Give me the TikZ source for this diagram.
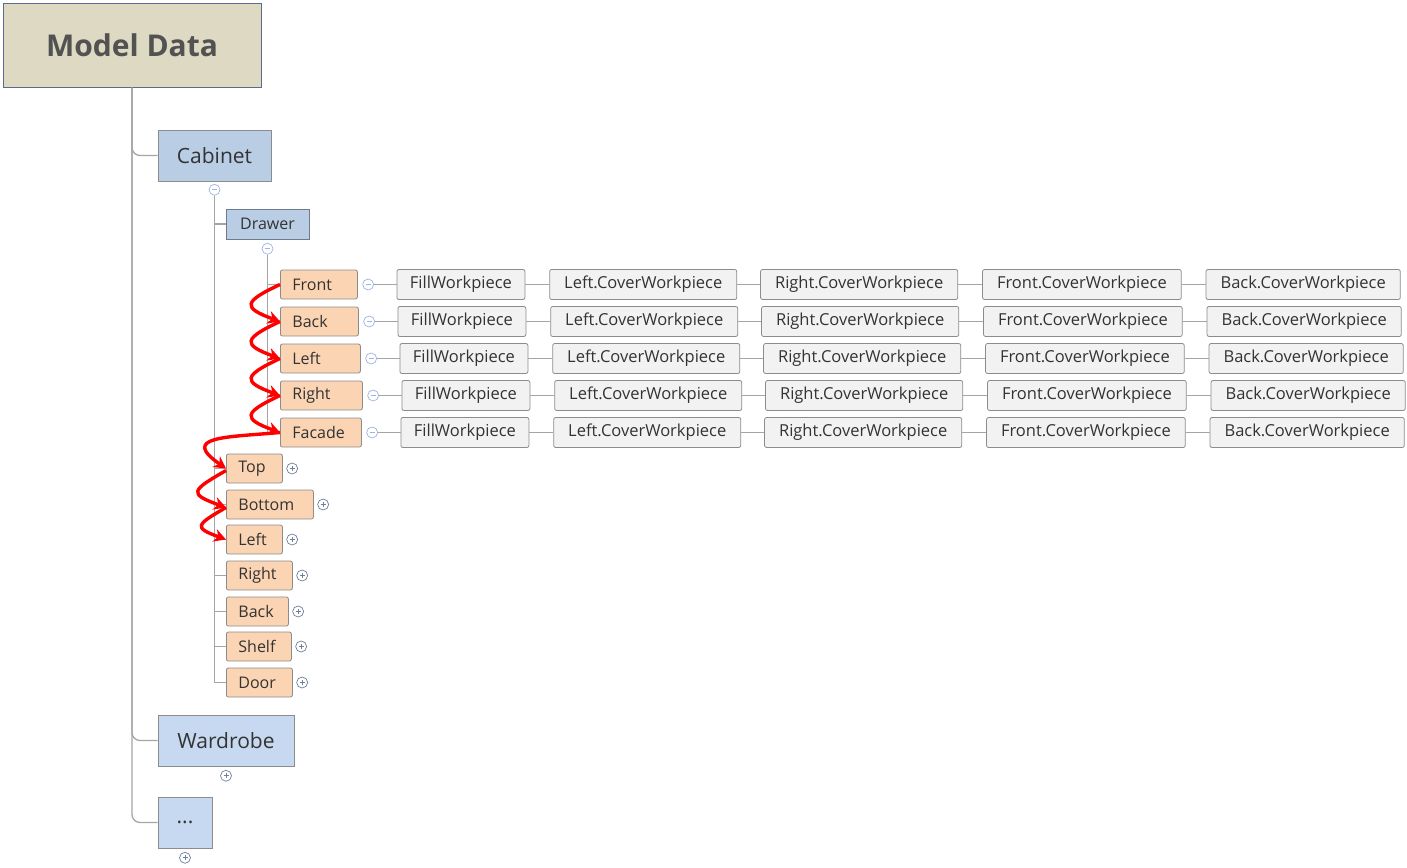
\documentclass[tikz,border=0pt]{standalone}
\usepackage{fontspec}
\setmainfont{Open Sans}
\usetikzlibrary{positioning,arrows.meta}
\definecolor{tanfill}{HTML}{DDD9C3}
\definecolor{rootedge}{HTML}{5B6B8C}
\definecolor{bluefill}{HTML}{B9CDE5}
\definecolor{paleblue}{HTML}{C6D9F0}
\definecolor{boxedge}{HTML}{8C8C8C}
\definecolor{subedge}{HTML}{6D7B8D}
\definecolor{peach}{HTML}{FBD4B4}
\definecolor{workfill}{HTML}{F2F2F2}
\definecolor{linkgray}{HTML}{A5A5A5}
\definecolor{minusblue}{HTML}{9DB3E3}
\definecolor{plusblue}{HTML}{6E7F99}
\definecolor{ink}{HTML}{333333}
\begin{document}
\begin{tikzpicture}[x=1pt, y=-1pt, text=ink,
  root/.style={draw=rootedge, fill=tanfill, line width=1pt, minimum width=258pt, minimum height=83pt, text=ink!85, font=\fontsize{30}{34}\selectfont\bfseries},
  group/.style={draw=boxedge, fill=bluefill, line width=0.8pt, minimum height=51pt, font=\fontsize{21}{25}\selectfont},
  groupb/.style={group, fill=paleblue},
  sub/.style={draw=subedge, fill=bluefill, line width=0.8pt, minimum width=83pt, minimum height=30pt, font=\fontsize{16}{19}\selectfont},
  part/.style={draw=boxedge, fill=peach, line width=0.8pt, rounded corners=2pt, anchor=west, minimum height=29pt, inner xsep=12pt, text width=#1, align=left, font=\fontsize{16}{19}\selectfont},
  work/.style={draw=boxedge, fill=workfill, line width=0.8pt, rounded corners=2pt, minimum height=30pt, inner xsep=14.5pt, font=\fontsize{16.5}{19}\selectfont},
  fillbox/.style={work, inner xsep=13pt},
  fold/.style={circle, fill=white, line width=0.7pt, inner sep=0pt, minimum size=11pt},
  minusfold/.style={fold, draw=minusblue, path picture={\draw[minusblue, line width=0.8pt] ([xshift=-2.5pt]path picture bounding box.center) -- ([xshift=2.5pt]path picture bounding box.center);}},
  plusfold/.style={fold, draw=plusblue, path picture={\draw[plusblue, line width=0.8pt] ([xshift=-2.5pt]path picture bounding box.center) -- ([xshift=2.5pt]path picture bounding box.center) ([yshift=-2.5pt]path picture bounding box.center) -- ([yshift=2.5pt]path picture bounding box.center);}},
  link/.style={draw=linkgray, line width=1.3pt},
  flow/.style={draw=red, line width=3.4pt, -{Stealth[length=12pt, width=13pt]}}]

  \useasboundingbox (0,0) rectangle (1407,867);

  % Top levels
  \node[root] (MD) at (132,45.5) {Model Data};
  \node[group, minimum width=113pt] (CAB) at (214.5,155.5) {Cabinet};
  \node[minusfold, below=2.5pt of CAB] (CABF) {};
  \node[sub] (DRW) at (267.5,224) {Drawer};
  \node[minusfold, below=3.5pt of DRW] (DRWF) {};
  \node[groupb, minimum width=136pt] (WRD) at (226,740.5) {Wardrobe};
  \node[plusfold, below=3.5pt of WRD] (WRDF) {};
  \node[groupb, minimum width=54pt] (ETC) at (185,822.5) {...};
  \node[plusfold, below=3.5pt of ETC] (ETCF) {};

  % First row
  \node[part=53pt] (P1) at (280,284.5) {Front};
  \node[minusfold, right=4.5pt of P1] (M1) {};
  \node[fillbox, right=22.5pt of M1] (FW1) {FillWorkpiece};
  \node[work, right=24pt of FW1] (LC1) {Left.CoverWorkpiece};
  \node[work, right=23pt of LC1] (RC1) {Right.CoverWorkpiece};
  \node[work, right=24pt of RC1] (FC1) {Front.CoverWorkpiece};
  \node[work, right=24pt of FC1] (BC1) {Back.CoverWorkpiece};

  % Second row
  \node[part=54pt] (P2) at (280,321.5) {Back};
  \node[minusfold, right=4.5pt of P2] (M2) {};
  \node[fillbox, right=22.5pt of M2] (FW2) {FillWorkpiece};
  \node[work, right=24pt of FW2] (LC2) {Left.CoverWorkpiece};
  \node[work, right=23pt of LC2] (RC2) {Right.CoverWorkpiece};
  \node[work, right=24pt of RC2] (FC2) {Front.CoverWorkpiece};
  \node[work, right=24pt of FC2] (BC2) {Back.CoverWorkpiece};

  % Third row
  \node[part=56pt] (P3) at (280,358.5) {Left};
  \node[minusfold, right=4.5pt of P3] (M3) {};
  \node[fillbox, right=22.5pt of M3] (FW3) {FillWorkpiece};
  \node[work, right=24pt of FW3] (LC3) {Left.CoverWorkpiece};
  \node[work, right=23pt of LC3] (RC3) {Right.CoverWorkpiece};
  \node[work, right=24pt of RC3] (FC3) {Front.CoverWorkpiece};
  \node[work, right=24pt of FC3] (BC3) {Back.CoverWorkpiece};

  % Fourth row
  \node[part=58pt] (P4) at (280,395.5) {Right};
  \node[minusfold, right=4.5pt of P4] (M4) {};
  \node[fillbox, right=22.5pt of M4] (FW4) {FillWorkpiece};
  \node[work, right=24pt of FW4] (LC4) {Left.CoverWorkpiece};
  \node[work, right=23pt of LC4] (RC4) {Right.CoverWorkpiece};
  \node[work, right=24pt of RC4] (FC4) {Front.CoverWorkpiece};
  \node[work, right=24pt of FC4] (BC4) {Back.CoverWorkpiece};

  % Fifth row
  \node[part=57pt] (P5) at (280,432.5) {Facade};
  \node[minusfold, right=4.5pt of P5] (M5) {};
  \node[fillbox, right=22.5pt of M5] (FW5) {FillWorkpiece};
  \node[work, right=24pt of FW5] (LC5) {Left.CoverWorkpiece};
  \node[work, right=23pt of LC5] (RC5) {Right.CoverWorkpiece};
  \node[work, right=24pt of RC5] (FC5) {Front.CoverWorkpiece};
  \node[work, right=24pt of FC5] (BC5) {Back.CoverWorkpiece};

  % Cabinet parts
  \node[part=32pt] (Q1) at (226,468.5) {Top};
  \node[plusfold, right=3.5pt of Q1] (S1) {};
  \node[part=63pt] (Q2) at (226,504.5) {Bottom};
  \node[plusfold, right=3.5pt of Q2] (S2) {};
  \node[part=32pt] (Q3) at (226,539.5) {Left};
  \node[plusfold, right=3.5pt of Q3] (S3) {};
  \node[part=42pt] (Q4) at (226,575.5) {Right};
  \node[plusfold, right=3.5pt of Q4] (S4) {};
  \node[part=38pt] (Q5) at (226,611.5) {Back};
  \node[plusfold, right=3.5pt of Q5] (S5) {};
  \node[part=41pt] (Q6) at (226,646.5) {Shelf};
  \node[plusfold, right=3.5pt of Q6] (S6) {};
  \node[part=42pt] (Q7) at (226,682.5) {Door};
  \node[plusfold, right=3.5pt of Q7] (S7) {};

  % Tree lines
  \draw[link, rounded corners=8pt] (MD.south) |- (CAB.west);
  \draw[link, rounded corners=8pt] (MD.south) |- (WRD.west);
  \draw[link, rounded corners=8pt] (MD.south) |- (ETC.west);
  \draw[link] (CABF.south) |- (DRW.west);
  \draw[link] (CABF.south) |- (Q1.west);
  \draw[link] (CABF.south) |- (Q2.west);
  \draw[link] (CABF.south) |- (Q3.west);
  \draw[link] (CABF.south) |- (Q4.west);
  \draw[link] (CABF.south) |- (Q5.west);
  \draw[link] (CABF.south) |- (Q6.west);
  \draw[link] (CABF.south) |- (Q7.west);
  \draw[link] (DRWF.south) |- (P1.west);
  \draw[link] (DRWF.south) |- (P2.west);
  \draw[link] (DRWF.south) |- (P3.west);
  \draw[link] (DRWF.south) |- (P4.west);
  \draw[link] (DRWF.south) |- (P5.west);

  % Horizontal links
  \draw[link] (M1) -- (FW1) (FW1) -- (LC1) (LC1) -- (RC1) (RC1) -- (FC1) (FC1) -- (BC1);
  \draw[link] (M2) -- (FW2) (FW2) -- (LC2) (LC2) -- (RC2) (RC2) -- (FC2) (FC2) -- (BC2);
  \draw[link] (M3) -- (FW3) (FW3) -- (LC3) (LC3) -- (RC3) (RC3) -- (FC3) (FC3) -- (BC3);
  \draw[link] (M4) -- (FW4) (FW4) -- (LC4) (LC4) -- (RC4) (RC4) -- (FC4) (FC4) -- (BC4);
  \draw[link] (M5) -- (FW5) (FW5) -- (LC5) (LC5) -- (RC5) (RC5) -- (FC5) (FC5) -- (BC5);

  % Red order arrows
  \draw[flow] (P1.west) to[out=205, in=160, looseness=2.8] (P2.west);
  \draw[flow] (P2.west) to[out=205, in=160, looseness=2.8] (P3.west);
  \draw[flow] (P3.west) to[out=205, in=160, looseness=2.8] (P4.west);
  \draw[flow] (P4.west) to[out=205, in=160, looseness=2.8] (P5.west);
  \draw[flow] (P5.west) to[out=185, in=145, looseness=2.2] (Q1.west);
  \draw[flow] ([yshift=-2pt]Q1.west) to[out=210, in=160, looseness=2.8] ([yshift=-3pt]Q2.west);
  \draw[flow] ([yshift=-3pt]Q2.west) to[out=210, in=160, looseness=2.8] (Q3.west);

\end{tikzpicture}
\end{document}
